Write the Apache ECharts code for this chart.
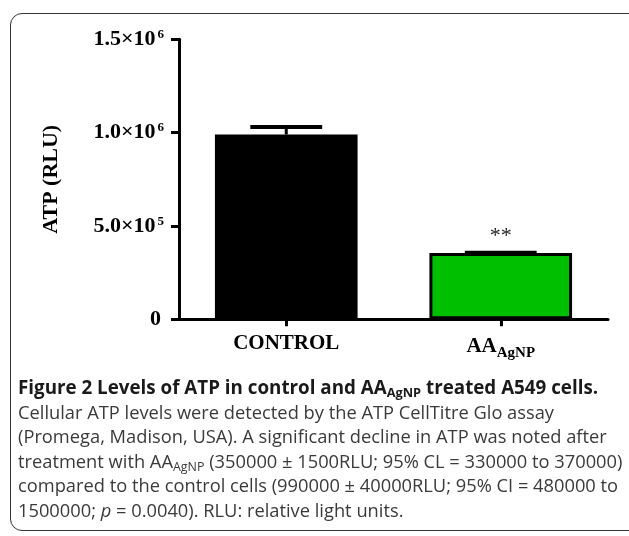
<!DOCTYPE html>
<html>
<head>
<meta charset="utf-8">
<script src="https://cdn.jsdelivr.net/npm/echarts@6/dist/echarts.min.js"></script>
<style>
  html, body { margin: 0; padding: 0; background: #fff; }
  #wrap { position: relative; width: 629px; height: 536px; overflow: hidden; background: #fff; }
  #frame { position: absolute; left: 10px; top: 13px; width: 640px; height: 518px;
           border: 1.5px solid #333; border-radius: 12px; box-sizing: border-box; }
  #chart { position: absolute; left: 0; top: 0; width: 629px; height: 536px; }
  #caption { position: absolute; left: 18px; top: 375px; width: 620px;
             font-family: "Open Sans", sans-serif; font-size: 18.3px; line-height: 24.5px; color: #3a3a3a; }
  #caption div { white-space: nowrap; }
  #caption .t { font-weight: bold; color: #1a1a1a; font-size: 18.8px; }
  sub { font-size: 0.68em; vertical-align: -0.25em; line-height: 0; }
</style>
</head>
<body>
<div id="wrap">
  <div id="frame"></div>
  <div id="chart"></div>
  <div id="caption">
    <div class="t">Figure 2 Levels of ATP in control and AA<sub>AgNP</sub> treated A549 cells.</div>
    <div>Cellular ATP levels were detected by the ATP CellTitre Glo assay</div>
    <div>(Promega, Madison, USA). A significant decline in ATP was noted after</div>
    <div>treatment with AA<sub>AgNP</sub> (350000 ± 1500RLU; 95% CL = 330000 to 370000)</div>
    <div>compared to the control cells (990000 ± 40000RLU; 95% CI = 480000 to</div>
    <div>1500000; <i>p</i> = 0.0040). RLU: relative light units.</div>
  </div>
</div>
<script>
// ---- data ----
const categories = ['CONTROL', 'AAAgNP'];
const categoryMain = ['CONTROL', 'AA'];
const categorySub = ['', 'AgNP'];
const atpMean = [990000, 355000];
const atpError = [40000, 1500];
const significance = ['', '**'];
const yTicks = [0, 500000, 1000000, 1500000];
const yTickMantissa = ['0', '5.0×10', '1.0×10', '1.5×10'];
const yTickExponent = ['', '5', '6', '6'];
const barColors = ['#000000', '#00bf00'];

const SERIF = '"Liberation Serif", "Times New Roman", serif';

const chart = echarts.init(document.getElementById('chart'), null, { renderer: 'canvas' });

const option = {
  animation: false,
  grid: { left: 179, right: 21, top: 39.3, bottom: 216.7, containLabel: false },
  xAxis: {
    type: 'category',
    data: categories,
    axisLine: { show: true, lineStyle: { color: '#000', width: 3 } },
    axisTick: { show: true, alignWithLabel: true, length: 7, lineStyle: { color: '#000', width: 3 } },
    axisLabel: {
      margin: 14,
      formatter: function (v, i) {
        return categorySub[i] ? '{m|' + categoryMain[i] + '}{s|' + categorySub[i] + '}' : '{m|' + categoryMain[i] + '}';
      },
      rich: {
        m: { fontFamily: SERIF, fontWeight: 'bold', fontSize: 21, color: '#000' },
        s: { fontFamily: SERIF, fontWeight: 'bold', fontSize: 15, color: '#000', padding: [12, 0, 0, 0] }
      }
    },
    splitLine: { show: false }
  },
  yAxis: {
    type: 'value',
    min: 0, max: 1500000, interval: 500000,
    axisLine: { show: true, lineStyle: { color: '#000', width: 3 } },
    axisTick: { show: true, length: 8, lineStyle: { color: '#000', width: 3 } },
    splitLine: { show: false },
    axisLabel: {
      margin: 15,
      formatter: function (v) {
        const i = yTicks.indexOf(v);
        if (i < 0) return '';
        return yTickExponent[i] ? '{m|' + yTickMantissa[i] + '}{s|' + yTickExponent[i] + '}' : '{z|' + yTickMantissa[i] + '}';
      },
      rich: {
        m: { fontFamily: SERIF, fontWeight: 'bold', fontSize: 22, color: '#000' },
        s: { fontFamily: SERIF, fontWeight: 'bold', fontSize: 13, color: '#000', padding: [0, 0, 9, 2] },
        z: { fontFamily: SERIF, fontWeight: 'bold', fontSize: 22, color: '#000', padding: [0, 3, 0, 0] }
      }
    },
    name: 'ATP (RLU)',
    nameLocation: 'middle',
    nameGap: 117,
    nameTextStyle: { fontFamily: SERIF, fontWeight: 'bold', fontSize: 22, color: '#000' }
  },
  series: [
    {
      type: 'bar',
      barWidth: '66.5%',
      data: atpMean.map(function (v, i) {
        return { value: v, itemStyle: { color: barColors[i], borderColor: '#000', borderWidth: 3 } };
      }),
      z: 2
    },
    {
      type: 'custom',
      z: 3,
      data: atpMean.map(function (v, i) { return [i, v, atpError[i]]; }),
      renderItem: function (params, api) {
        const idx = api.value(0), m = api.value(1), e = api.value(2);
        const top = api.coord([idx, m + e]);
        const base = api.coord([idx, m]);
        const w = api.size([1, 0])[0] * 0.335;
        const children = [
          { type: 'line', shape: { x1: top[0], y1: base[1], x2: top[0], y2: top[1] }, style: { stroke: '#000', lineWidth: 3 } },
          { type: 'line', shape: { x1: top[0] - w / 2, y1: top[1], x2: top[0] + w / 2, y2: top[1] }, style: { stroke: '#000', lineWidth: 4 } }
        ];
        if (significance[params.dataIndex]) {
          children.push({
            type: 'text',
            style: { x: top[0], y: top[1] - 17, text: significance[params.dataIndex], fontFamily: SERIF, fontSize: 22,
                     fill: '#222', align: 'center', verticalAlign: 'middle' }
          });
        }
        return { type: 'group', children: children };
      }
    }
  ]
};
chart.setOption(option);
</script>
</body>
</html>
